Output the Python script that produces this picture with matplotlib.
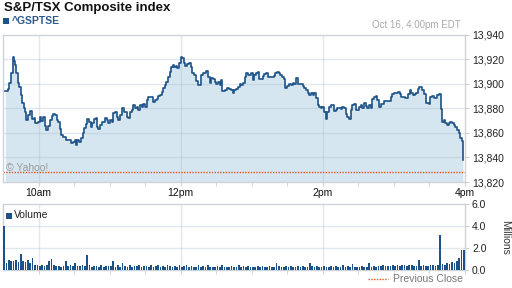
import matplotlib
matplotlib.use("Agg")
import matplotlib.pyplot as plt
from matplotlib.patches import Rectangle
from matplotlib.ticker import FixedLocator

plt.rcParams['font.family'] = ['Liberation Sans', 'DejaVu Sans']

# minutes after 9:30 and index level
minutes = [2.0, 4.0, 5.4, 7.1, 8.2, 9.0, 10.4, 11.3, 12.4, 13.8, 15.2, 16.1, 17.4, 18.8, 19.7,
           21.1, 23.0, 24.5, 25.8, 27.2, 29.2, 30.9, 32.0, 33.7, 35.1, 36.5, 38.4, 39.9, 41.3,
           42.6, 44.1, 45.5, 46.8, 48.3, 49.1, 50.5, 51.9, 53.3, 55.3, 57.3, 59.0, 60.9, 61.7,
           62.8, 64.5, 65.9, 67.4, 68.5, 69.9, 71.2, 72.7, 74.1, 75.4, 77.1, 78.5, 79.1, 80.5,
           81.9, 83.8, 86.1, 87.5, 88.9, 90.3, 91.8, 93.1, 94.5, 96.0, 97.3, 98.7, 100.7, 102.3,
           104.4, 105.7, 107.1, 108.6, 109.9, 111.3, 112.8, 114.1, 115.5, 117.0, 118.3, 119.8,
           121.2, 122.5, 124.8, 126.7, 128.2, 129.6, 130.9, 132.4, 133.8, 135.1, 136.6, 138.0,
           139.4, 140.8, 141.6, 143.1, 144.4, 145.8, 147.3, 148.4, 150.0, 151.1, 152.6, 154.0,
           155.3, 157.0, 158.4, 159.5, 161.2, 162.6, 164.6, 166.0, 167.4, 168.8, 170.2, 171.6,
           173.0, 174.4, 175.8, 177.2, 178.6, 180.1, 181.4, 182.8, 183.7, 184.8, 187.0, 189.0,
           190.7, 192.7, 194.0, 195.4, 196.9, 198.2, 199.7, 201.1, 202.4, 203.9, 205.3, 206.6,
           208.1, 209.5, 210.8, 212.3, 213.7, 215.0, 216.5, 217.9, 219.2, 220.7, 222.1, 223.4,
           225.5, 227.2, 228.5, 229.9, 231.4, 232.7, 234.1, 235.6, 236.9, 238.4, 239.4, 241.1,
           243.1, 244.5, 245.9, 247.3, 248.7, 251.5, 252.9, 254.3, 255.7, 257.1, 258.5, 260.0,
           261.3, 262.7, 264.2, 265.5, 266.9, 268.4, 269.7, 271.1, 272.6, 273.9, 275.3, 276.8,
           278.1, 279.5, 280.9, 282.3, 283.7, 285.2, 286.5, 288.0, 289.4, 290.7, 292.2, 293.6,
           294.9, 296.4, 297.8, 299.1, 300.6, 302.0, 303.3, 304.8, 306.2, 307.5, 309.0, 310.4,
           311.8, 313.2, 314.6, 316.0, 317.4, 318.8, 320.2, 321.6, 323.5, 325.8, 327.2, 328.6,
           330.0, 331.9, 333.6, 334.8, 336.1, 337.6, 339.0, 340.4, 341.8, 343.2, 344.6, 346.0,
           347.4, 348.8, 350.2, 351.0, 352.5, 353.8, 355.2, 356.7, 358.0, 359.4, 360.8, 362.2,
           363.6, 365.1, 366.4, 367.8, 369.3, 369.8, 370.6, 372.1, 373.5, 374.8, 376.3, 377.7,
           379.0, 380.5, 381.9, 383.2, 384.6, 386.1, 387.4, 388.3]
prices = [13894.4, 13895.5, 13900.4, 13908.6, 13922.0, 13918.9, 13915.3, 13908.6, 13900.9,
          13897.6, 13890.9, 13884.1, 13880.0, 13877.2, 13870.4, 13874.5, 13878.0, 13871.0,
          13871.8, 13867.8, 13869.1, 13873.1, 13869.9, 13872.7, 13865.6, 13862.3, 13865.6,
          13870.4, 13873.7, 13875.3, 13874.5, 13870.4, 13869.1, 13862.9, 13858.2, 13856.3,
          13856.8, 13854.1, 13854.1, 13851.4, 13852.7, 13854.1, 13850.0, 13854.1, 13852.7,
          13855.5, 13859.6, 13863.7, 13867.2, 13871.0, 13869.1, 13864.5, 13867.8, 13871.0,
          13871.8, 13864.5, 13862.9, 13866.4, 13869.1, 13871.8, 13870.4, 13867.8, 13870.4,
          13869.1, 13876.4, 13877.2, 13872.7, 13870.4, 13874.5, 13880.0, 13877.2, 13873.1,
          13871.8, 13877.2, 13878.6, 13882.7, 13880.0, 13881.3, 13878.6, 13882.7, 13881.3,
          13883.5, 13881.3, 13886.8, 13889.0, 13889.0, 13885.4, 13886.8, 13887.3, 13890.0,
          13890.9, 13893.6, 13896.3, 13899.0, 13901.7, 13905.8, 13909.9, 13914.0, 13915.3,
          13913.5, 13914.5, 13912.7, 13917.2, 13922.1, 13920.8, 13917.2, 13914.5, 13916.2,
          13917.2, 13914.0, 13909.1, 13907.2, 13902.5, 13899.0, 13899.0, 13907.2, 13908.6,
          13909.1, 13910.7, 13905.8, 13900.9, 13904.5, 13903.7, 13901.7, 13899.8, 13901.7,
          13899.0, 13903.1, 13894.4, 13894.9, 13896.3, 13895.5, 13894.9, 13892.2, 13894.9,
          13895.5, 13897.6, 13899.8, 13899.0, 13900.4, 13905.3, 13908.6, 13907.2, 13907.2,
          13909.1, 13903.1, 13907.2, 13909.1, 13909.9, 13903.7, 13903.7, 13906.4, 13908.0,
          13908.6, 13905.3, 13905.3, 13905.3, 13906.4, 13908.6, 13909.9, 13909.1, 13907.2,
          13905.3, 13903.7, 13896.3, 13898.2, 13899.8, 13899.0, 13900.9, 13899.8, 13904.5,
          13899.8, 13899.8, 13898.2, 13896.3, 13894.9, 13892.7, 13890.9, 13892.2, 13890.9,
          13892.2, 13888.2, 13882.7, 13880.8, 13880.0, 13881.3, 13877.2, 13871.0, 13877.2,
          13881.3, 13882.7, 13882.7, 13878.0, 13878.6, 13880.0, 13880.0, 13879.2, 13880.8,
          13880.0, 13875.3, 13873.1, 13871.3, 13878.6, 13882.7, 13883.5, 13878.6, 13878.6,
          13881.3, 13882.7, 13880.0, 13884.1, 13881.9, 13880.0, 13882.7, 13880.0, 13887.3,
          13889.0, 13890.0, 13886.8, 13881.3, 13883.5, 13883.5, 13886.2, 13886.2, 13886.2,
          13889.0, 13891.7, 13892.7, 13892.7, 13893.6, 13891.7, 13889.5, 13889.5, 13888.2,
          13888.2, 13891.7, 13894.9, 13892.7, 13890.9, 13891.7, 13892.7, 13895.5, 13897.6,
          13897.1, 13894.9, 13891.7, 13884.6, 13884.6, 13883.5, 13889.5, 13890.0, 13888.2,
          13888.2, 13890.9, 13891.4, 13891.4, 13879.2, 13869.1, 13870.4, 13867.8, 13866.4,
          13868.2, 13869.1, 13867.8, 13866.4, 13865.0, 13862.3, 13859.6, 13855.5, 13853.6,
          13837.8]
prev_close = 13828.2

# volume in millions, 2-minute bins from 9:30
volume = [4.0, 0.6, 0.9, 0.8, 0.85, 0.9, 0.7, 1.5, 0.8, 0.75, 0.9, 0.6, 1.1, 0.5, 0.45, 0.4,
          0.45, 0.35, 0.5, 0.8, 1.0, 0.5, 0.4, 0.35, 0.3, 0.4, 0.8, 0.35, 0.45, 0.4,
          0.6, 0.4, 0.35, 0.5, 0.4, 1.4, 0.45, 0.3, 0.35, 0.4, 0.3, 0.5, 0.3, 0.35, 0.4,
          0.35, 0.8, 0.3, 0.45, 0.3, 0.6, 0.35, 0.3, 0.45, 0.3, 0.4, 0.35, 0.5, 0.3, 0.35,
          0.4, 0.3, 0.5, 0.3, 0.35, 0.45, 0.3, 0.4, 0.3, 0.5, 0.35, 0.3, 0.4, 0.3, 0.45,
          0.3, 0.35, 0.5, 0.3, 0.4, 0.3, 0.3, 0.45, 0.3, 0.35, 0.3, 0.5, 0.3, 0.25, 0.3,
          0.35, 0.3, 0.45, 0.3, 0.25, 0.3, 0.4, 0.3, 0.3, 0.45, 0.3, 0.35, 0.3, 0.4, 0.3,
          0.3, 0.25, 0.35, 0.3, 0.4, 0.3, 0.3, 0.35, 0.3, 0.3, 0.6, 0.35, 0.3, 0.3, 0.4,
          0.3, 0.35, 0.3, 0.3, 0.4, 0.3, 0.35, 0.3, 0.3, 0.6, 0.4, 0.3, 0.35, 0.3, 0.3,
          0.4, 0.3, 0.3, 0.35, 0.3, 0.4, 0.3, 0.3, 0.45, 0.3, 0.35, 0.3, 0.55, 0.3, 0.3,
          0.3, 0.35, 0.3, 0.3, 0.6, 0.3, 0.4, 0.3, 0.35, 0.4, 0.45, 0.35, 0.4, 0.35, 0.45,
          0.4, 0.5, 0.4, 0.45, 0.5, 0.4, 0.45, 0.5, 0.35, 0.4, 0.9, 0.4, 0.45, 0.4, 0.4,
          0.5, 0.45, 0.4, 0.5, 3.2, 0.55, 0.5, 0.6, 0.55, 0.7, 0.6, 0.8, 1.1, 1.8, 1.85]
vol_minutes = [2 * i + 1 for i in range(len(volume))]

price_ticks = [13820, 13840, 13860, 13880, 13900, 13920, 13940]
vol_ticks = [0, 2, 4, 6]
time_ticks = [30, 150, 270, 390]
time_labels = ["10am", "12pm", "2pm", "4pm"]
half_hours = [60, 90, 120, 180, 210, 240, 300, 330, 360]

blue = "#1c5288"
fill = "#d6e6f1"
spine = "#cfd3d8"
grid = "#9fb5cc"

fig = plt.figure(figsize=(5.12, 2.88), dpi=100)
ax = fig.add_axes([3 / 512, 106 / 288, 462 / 512, 147.2 / 288])
vax = fig.add_axes([3 / 512, 18 / 288, 462 / 512, 66 / 288])

for a in (ax, vax):
    for s in a.spines.values():
        s.set_color(spine)
        s.set_linewidth(1)
    a.set_xlim(0, 390)
    a.yaxis.tick_right()
    a.tick_params(axis="y", colors=spine, labelcolor="#222222", length=3, labelsize=7.5, pad=2)
    a.tick_params(axis="x", colors=spine, labelcolor="#111111", length=3, labelsize=7.5, pad=1)
    a.xaxis.set_minor_locator(FixedLocator(half_hours))
    a.tick_params(axis="x", which="minor", colors=spine, length=3)
    for t in time_ticks[:-1]:
        a.axvline(t, color=grid, alpha=0.3, lw=1, zorder=1)

ax.fill_between(minutes, prices, 13820, color=fill, lw=0, zorder=0)
for p in price_ticks[1:-1]:
    ax.axhline(p, color=grid, alpha=0.3, lw=1, zorder=1)
ax.plot(minutes, prices, color=blue, lw=1.2, drawstyle="steps-post", zorder=3)
ax.axhline(prev_close, color="#e8531e", lw=1, ls=(0, (1, 1)), zorder=2)
ax.set_ylim(13820, 13940)
ax.set_yticks(price_ticks)
ax.set_yticklabels([f"{p:,}" for p in price_ticks])
ax.set_xticks(time_ticks)
ax.set_xticklabels(time_labels)
ax.text(0.006, 0.075, "© Yahoo!", transform=ax.transAxes, fontsize=7.5, color="#9a9a9a")

vax.bar(vol_minutes, volume, width=1.4, color=blue, zorder=3)
for v in vol_ticks[1:-1]:
    vax.axhline(v, color=grid, alpha=0.3, lw=1, zorder=1)
vax.set_ylim(0, 6)
vax.set_yticks(vol_ticks)
vax.set_yticklabels([f"{v:.1f}" for v in vol_ticks])
vax.set_xticks(time_ticks)
vax.set_xticklabels([])
fig.add_artist(Rectangle((6 / 512, 1 - 218.5 / 288), 6 / 512, 6 / 288, color=blue, lw=0))
fig.text(14 / 512, 1 - 215.5 / 288, "Volume", fontsize=7.5, color="#222222", va="center")

fig.text(4 / 512, 1 - 8 / 288, "S&P/TSX Composite index", fontsize=9.5, fontweight="bold",
         color="#111111", va="center")
fig.add_artist(Rectangle((3 / 512, 1 - 24 / 288), 6 / 512, 6 / 288, color=blue, lw=0))
fig.text(12 / 512, 1 - 21 / 288, "^GSPTSE", fontsize=7.5, color="#2a5a8f", va="center",
         fontweight="bold")
fig.text(461 / 512, 1 - 25 / 288, "Oct 16, 4:00pm EDT", fontsize=7, color="#aaaaaa",
         va="center", ha="right")
fig.text(505 / 512, 1 - 237 / 288, "Millions", fontsize=7.5, color="#333333", rotation=270,
         va="center", ha="center")
fig.add_artist(plt.Line2D([368 / 512, 388 / 512], [1 - 279 / 288, 1 - 279 / 288],
                          color="#e8531e", lw=1, ls=(0, (1, 1))))
fig.text(393 / 512, 1 - 279 / 288, "Previous Close", fontsize=7.5, color="#777777", va="center")

fig.savefig("out.png", dpi=100)
